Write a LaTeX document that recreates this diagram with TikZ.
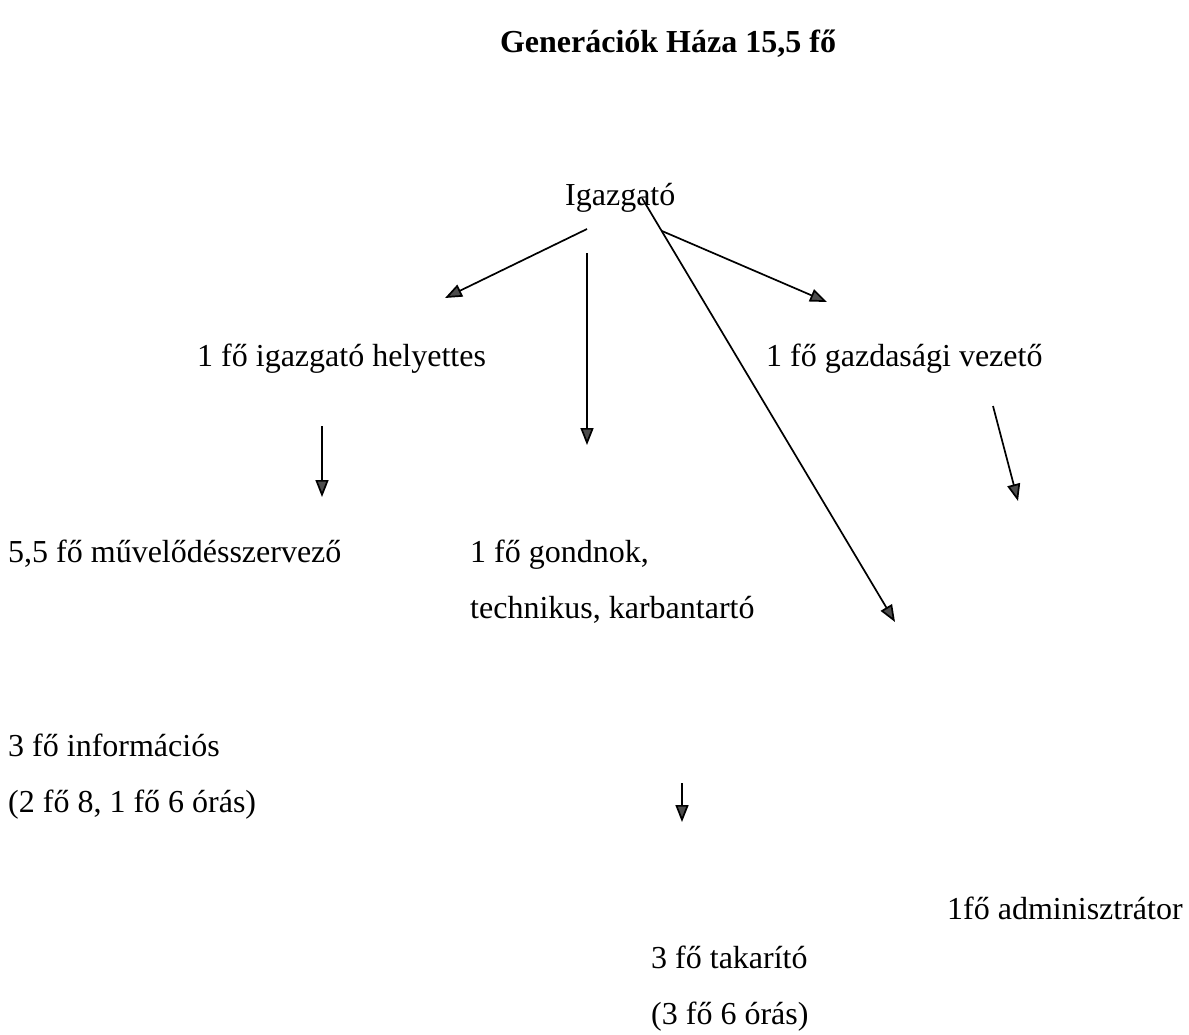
\documentclass[tikz,border=0pt]{standalone}
\usepackage{fontspec}
\setmainfont{Liberation Serif}
\usetikzlibrary{arrows.meta}

\begin{document}
\begin{tikzpicture}[x=1pt,y=-1pt,
	lbl/.style={anchor=base west,inner sep=0pt,align=left,font=\fontsize{32}{56}\selectfont},
	hdr/.style={anchor=base,inner sep=0pt,font=\fontsize{32}{38}\selectfont\bfseries},
	arr/.style={-{Triangle[length=17pt,width=13pt,fill=black!70]},line width=1.7pt}]
	\useasboundingbox (0,0) rectangle (1189,1034);
	\node[hdr] (title) at (668,52) {Generációk Háza 15,5 fő};
	\node[lbl] (igazgato) at (565,205) {Igazgató};
	\node[lbl] (helyettes) at (197,366) {1 fő igazgató helyettes};
	\node[lbl] (gazdasagi) at (766,366) {1 fő gazdasági vezető};
	\node[lbl] (muvelodes) at (8,562) {5,5 fő művelődésszervező};
	% base = last line
	\node[lbl] (gondnok) at (470,618) {1 fő gondnok,\\technikus, karbantartó};
	\node[lbl] (informacios) at (8,812) {3 fő információs\\(2 fő 8, 1 fő 6 órás)};
	\node[lbl] (admin) at (947,919) {1fő adminisztrátor};
	\node[lbl] (takarito) at (651,1024) {3 fő takarító\\(3 fő 6 órás)};
	% arrow ends
	\coordinate (igL) at (587,229);  \coordinate (hyT) at (445,298);
	\coordinate (igC) at (587,253);  \coordinate (goT) at (587,445);
	\coordinate (igD) at (642,198);  \coordinate (adT) at (895,622);
	\coordinate (igR) at (662,231);  \coordinate (gaT) at (827,302);
	\coordinate (hyB) at (322,426);  \coordinate (muT) at (322,497);
	\coordinate (gaB) at (993,406);  \coordinate (gaE) at (1018,501);
	\coordinate (goB) at (682,783);  \coordinate (taT) at (682,822);
	\path[arr]
	(igL) edge (hyT)
	(igC) edge (goT)
	(igD) edge (adT)
	(igR) edge (gaT)
	(hyB) edge (muT)
	(gaB) edge (gaE)
	(goB) edge (taT);
\end{tikzpicture}
\end{document}
